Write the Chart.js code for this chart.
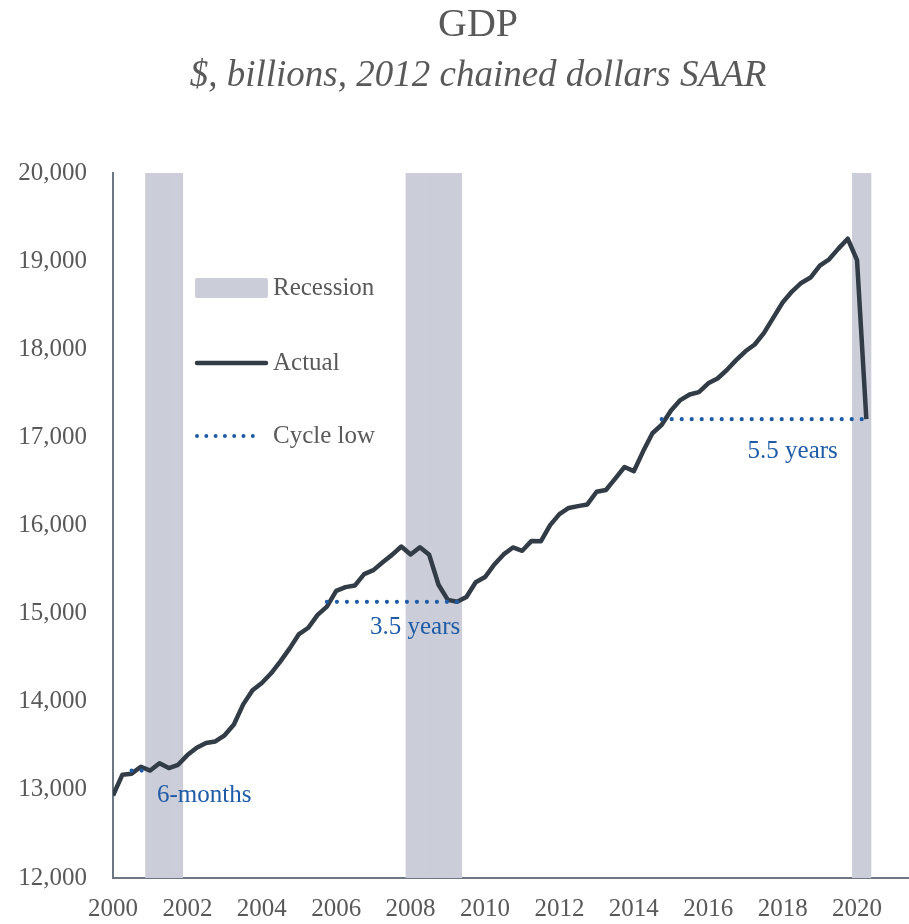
<!DOCTYPE html>
<html>
<head>
<meta charset="utf-8">
<script src="https://cdn.jsdelivr.net/npm/chart.js@4"></script>
<style>
  body { margin: 0; background: #fff; }
  #wrap { width: 909px; height: 924px; position: relative; }
</style>
</head>
<body>
<div id="wrap"><canvas id="gdpChart"></canvas></div>
<script>
// Real GDP, quarterly, 2000Q1 - 2020Q2 ($bn, 2012 chained dollars SAAR)
const firstYear = 2000;
const gdp = [
  12935.3, 13170.7, 13183.9, 13262.3,
  13219.3, 13301.4, 13248.1, 13284.9,
  13394.9, 13477.4, 13531.7, 13549.4,
  13619.4, 13741.1, 13970.2, 14131.4,
  14212.3, 14323.0, 14457.8, 14605.6,
  14767.8, 14839.8, 14986.4, 15078.9,
  15258.8, 15300.8, 15318.5, 15448.9,
  15493.3, 15582.1, 15666.7, 15762.0,
  15671.4, 15752.3, 15667.0, 15328.0,
  15155.9, 15134.1, 15189.2, 15356.1,
  15415.1, 15557.5, 15672.0, 15750.6,
  15712.8, 15825.1, 15820.7, 16004.1,
  16129.4, 16198.8, 16220.2, 16239.1,
  16382.9, 16403.2, 16531.7, 16663.6,
  16616.5, 16841.5, 17047.1, 17143.0,
  17305.8, 17422.8, 17486.0, 17514.1,
  17613.3, 17668.2, 17764.4, 17876.2,
  17977.3, 18054.1, 18185.6, 18359.4,
  18530.5, 18654.4, 18752.4, 18813.9,
  18950.3, 19020.6, 19141.7, 19254.0,
  19010.8, 17206.0
];

// recession quarters (first, last)
const recessionStart = [2001.0, 2008.0, 2020.0];
const recessionEnd = [2001.75, 2009.25, 2020.25];

// cycle low: level, reached back at start, trough at end
const cycleLowLevel = [13219.3, 15134.1, 17206.0];
const cycleLowStart = [2000.5, 2005.75, 2014.75];
const cycleLowEnd = [2001.0, 2009.25, 2020.25];
const cycleLowLabel = ['6-months', '3.5 years', '5.5 years'];
const cycleLowLabelX = [2002.45, 2008.12, 2018.27];
const cycleLowLabelY = [12942, 14838, 16835];

const yTicks = { min: 12000, max: 20000, step: 1000 };

const greyText = '#595959';
const lineColor = '#323c46';
const bandColor = '#cbced8';
const blue = '#1f5ba6';
const serif = "'Liberation Serif', 'DejaVu Serif', serif";

// build datasets
const actualPoints = gdp.map((v, i) => ({ x: firstYear + i / 4, y: v }));

const bandPoints = [];
recessionStart.forEach((s, k) => {
  for (let q = s; q <= recessionEnd[k] + 0.001; q += 0.25) {
    bandPoints.push({ x: q, y: [yTicks.min, yTicks.max] });
  }
});

const cycleSets = cycleLowLevel.map((lvl, k) => ({
  type: 'line',
  label: 'Cycle low',
  data: [{ x: cycleLowStart[k], y: lvl }, { x: cycleLowEnd[k], y: lvl }],
  borderColor: blue,
  borderWidth: 4.2,
  borderDash: [0, 10],
  borderCapStyle: 'round',
  pointRadius: 0,
  order: 1
}));

// title, legend and notes
const decorations = {
  id: 'decorations',
  afterDraw(chart) {
    const ctx = chart.ctx;
    const area = chart.chartArea;
    const xs = chart.scales.x, ys = chart.scales.y;
    ctx.save();
    ctx.fillStyle = greyText;
    ctx.textAlign = 'center';
    ctx.textBaseline = 'middle';
    ctx.font = '40px ' + serif;
    ctx.fillText('GDP', 478, 25);
    ctx.font = 'italic 37px ' + serif;
    ctx.fillText('$, billions, 2012 chained dollars SAAR', 478, 76);

    // notes
    ctx.fillStyle = blue;
    ctx.font = '25px ' + serif;
    cycleLowLabel.forEach((t, k) => {
      ctx.fillText(t, xs.getPixelForValue(cycleLowLabelX[k]), ys.getPixelForValue(cycleLowLabelY[k]));
    });

    // legend
    const lx = area.left + 82;
    const tx = lx + 78;
    const rows = [area.top + 115, area.top + 190, area.top + 263];
    ctx.fillStyle = bandColor;
    ctx.beginPath();
    ctx.roundRect(lx, rows[0] - 10, 73, 20, 2);
    ctx.fill();

    ctx.strokeStyle = lineColor;
    ctx.lineWidth = 4.5;
    ctx.lineCap = 'round';
    ctx.beginPath();
    ctx.moveTo(lx + 2, rows[1]);
    ctx.lineTo(lx + 71, rows[1]);
    ctx.stroke();

    ctx.strokeStyle = blue;
    ctx.lineWidth = 4;
    ctx.setLineDash([0, 9.3]);
    ctx.beginPath();
    ctx.moveTo(lx + 2, rows[2]);
    ctx.lineTo(lx + 64, rows[2]);
    ctx.stroke();
    ctx.setLineDash([]);

    ctx.fillStyle = greyText;
    ctx.textAlign = 'left';
    ctx.fillText('Recession', tx, rows[0]);
    ctx.fillText('Actual', tx, rows[1]);
    ctx.fillText('Cycle low', tx, rows[2]);
    ctx.restore();
  }
};

new Chart(document.getElementById('gdpChart'), {
  data: {
    datasets: [
      {
        type: 'bar',
        label: 'Recession',
        data: bandPoints,
        backgroundColor: bandColor,
        barPercentage: 1,
        categoryPercentage: 1,
        order: 3
      },
      {
        type: 'line',
        label: 'Actual',
        data: actualPoints,
        borderColor: lineColor,
        borderWidth: 4.5,
        borderJoinStyle: 'round',
        pointRadius: 0,
        tension: 0,
        order: 2
      },
      ...cycleSets
    ]
  },
  options: {
    responsive: true,
    maintainAspectRatio: false,
    animation: false,
    layout: { padding: { top: 173, right: 1, bottom: 0, left: 0 } },
    plugins: {
      legend: { display: false },
      tooltip: { enabled: false }
    },
    scales: {
      x: {
        type: 'linear',
        offset: false,
        min: 2000,
        max: 2021.37,
        grid: { display: false, drawTicks: false, offset: false },
        border: { display: true, color: '#6d7683', width: 2 },
        ticks: {
          stepSize: 2,
          includeBounds: false,
          autoSkip: false,
          maxRotation: 0,
          padding: 16,
          color: greyText,
          font: { family: serif, size: 25 },
          callback: (v) => String(Math.round(v))
        },
        afterFit: (scale) => { scale.height = 46; }
      },
      y: {
        min: yTicks.min,
        max: yTicks.max,
        grid: { display: false, drawTicks: false },
        border: { display: true, color: '#6d7683', width: 2 },
        ticks: {
          stepSize: yTicks.step,
          padding: 26,
          color: greyText,
          font: { family: serif, size: 25 }
        },
        afterFit: (scale) => { scale.width = 113; }
      }
    }
  },
  plugins: [decorations]
});
</script>
</body>
</html>
